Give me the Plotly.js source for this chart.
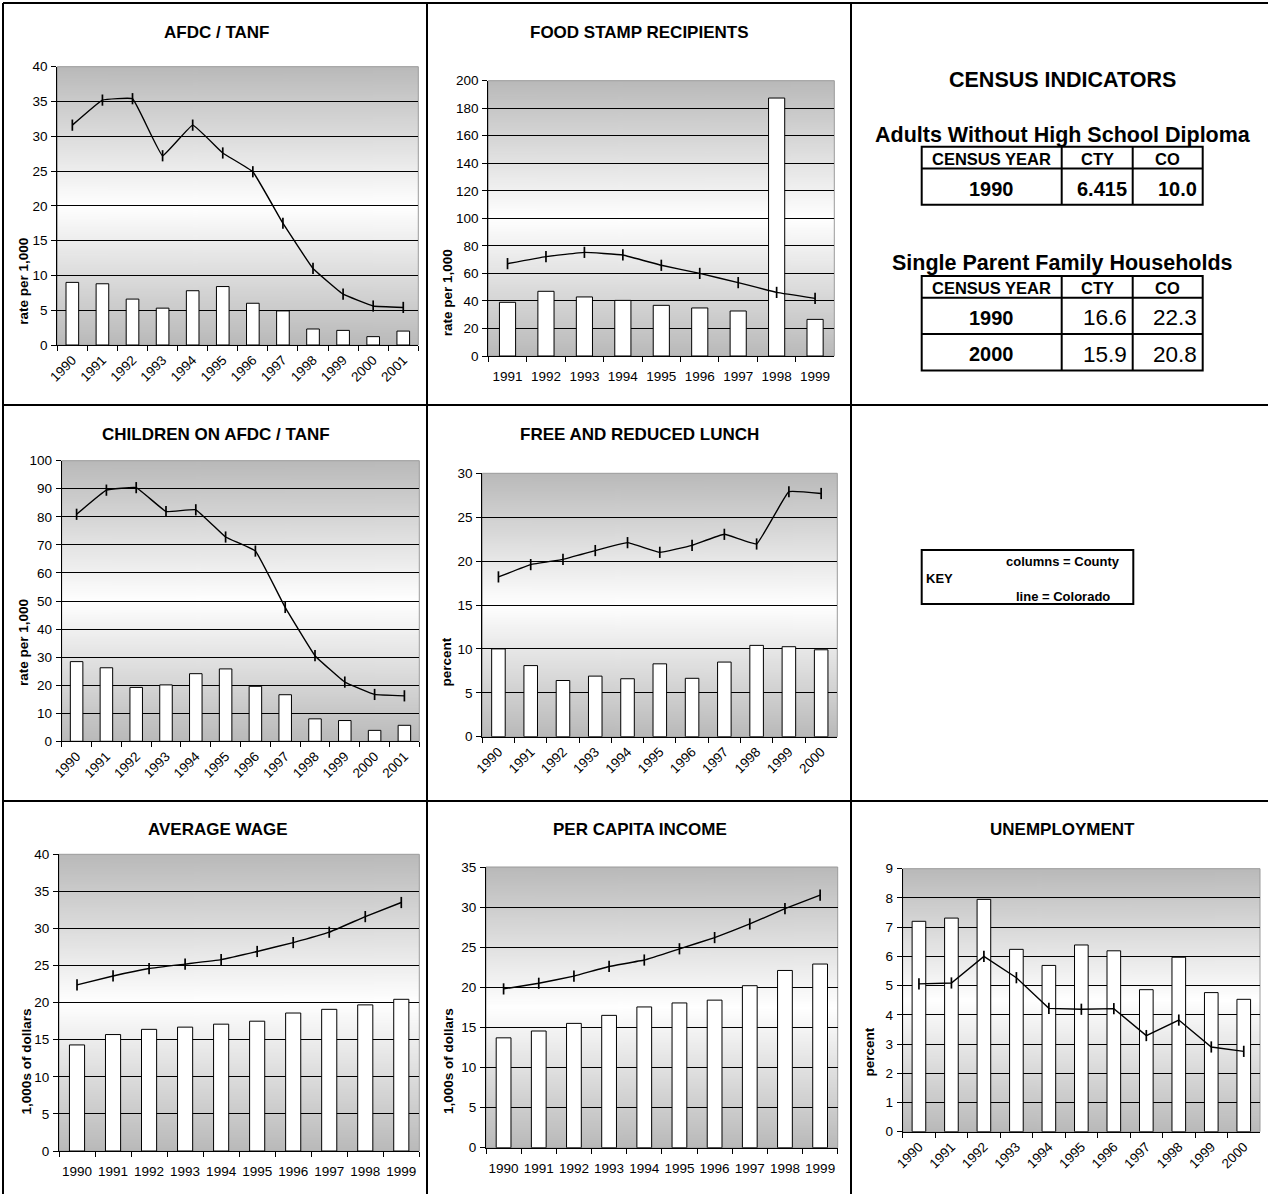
<!DOCTYPE html>
<html>
<head>
<meta charset="utf-8">
<script src="https://cdn.plot.ly/plotly-3.0.1.min.js"></script>
<style>
html,body{margin:0;padding:0;background:#fff;}
#chart{width:1268px;height:1194px;}
</style>
</head>
<body>
<div id="chart"></div>
<script>
// ---------------- DATA ----------------
const years1990to2001 = ['1990','1991','1992','1993','1994','1995','1996','1997','1998','1999','2000','2001'];
const years1990to2000 = ['1990','1991','1992','1993','1994','1995','1996','1997','1998','1999','2000'];
const years1990to1999 = ['1990','1991','1992','1993','1994','1995','1996','1997','1998','1999'];
const years1991to1999 = ['1991','1992','1993','1994','1995','1996','1997','1998','1999'];

const afdcCounty      = [9.0, 8.8, 6.6, 5.3, 7.8, 8.4, 6.0, 4.9, 2.3, 2.1, 1.2, 2.0];
const afdcColorado    = [31.6, 35.2, 35.4, 27.2, 31.6, 27.6, 24.9, 17.5, 11.0, 7.3, 5.6, 5.4];

const foodCounty      = [39.0, 47.0, 42.9, 40.4, 36.8, 34.9, 32.7, 187.4, 26.6];
const foodColorado    = [67.1, 72.2, 75.3, 73.4, 65.9, 60.0, 53.3, 46.2, 41.9];

const childCounty     = [28.4, 26.2, 19.2, 20.1, 24.1, 25.8, 19.6, 16.6, 8.0, 7.4, 3.9, 5.7];
const childColorado   = [80.9, 89.5, 90.4, 81.9, 82.5, 72.8, 67.8, 47.7, 30.5, 21.1, 16.7, 16.2];

const lunchCounty     = [10.0, 8.1, 6.4, 6.9, 6.6, 8.3, 6.65, 8.5, 10.4, 10.25, 9.9];
const lunchColorado   = [18.2, 19.6, 20.2, 21.2, 22.1, 21.0, 21.8, 23.05, 21.95, 27.9, 27.7];

const wageCounty      = [14.3, 15.7, 16.4, 16.7, 17.1, 17.5, 18.6, 19.1, 19.7, 20.45];
const wageColorado    = [22.4, 23.6, 24.6, 25.2, 25.8, 26.9, 28.1, 29.5, 31.6, 33.5];

const incomeCounty    = [13.7, 14.55, 15.5, 16.5, 17.55, 18.05, 18.4, 20.2, 22.1, 22.9];
const incomeColorado  = [19.8, 20.5, 21.4, 22.6, 23.4, 24.8, 26.2, 27.9, 29.8, 31.5];

const unempCounty     = [7.2, 7.31, 7.95, 6.24, 5.69, 6.39, 6.19, 4.86, 5.97, 4.76, 4.53];
const unempColorado   = [5.06, 5.09, 6.0, 5.27, 4.22, 4.19, 4.21, 3.29, 3.82, 2.9, 2.75];

const tableHeaders      = ['CENSUS YEAR', 'CTY', 'CO'];
const diplomaYears      = ['1990'];
const diplomaCty        = ['6.415'];
const diplomaCo         = ['10.0'];
const singleParentYears = ['1990', '2000'];
const singleParentCty   = ['16.6', '15.9'];
const singleParentCo    = ['22.3', '20.8'];

// ---------------- LAYOUT HELPERS ----------------
const W = 1268, H = 1194;
const FONT = '"Liberation Sans", Arial, sans-serif';
const TICK = 13.5;
const px = x => x / W;
const py = y => 1 - y / H;

const panels = [
  {title:'AFDC / TANF', cats:years1990to2001, county:afdcCounty, state:afdcColorado, ymax:40, dtick:5,
   ytitle:'rate per 1,000', angle:-45, box:[57.3,66.7,418.3,345], tpos:[216,33], ypos:[22.7,281], smooth:true},
  {title:'FOOD STAMP RECIPIENTS', cats:years1991to1999, county:foodCounty, state:foodColorado, ymax:200, dtick:20,
   ytitle:'rate per 1,000', angle:0, box:[488.3,80.7,834.3,356], tpos:[639,32.5], ypos:[447.7,292.5], smooth:true},
  {title:'CHILDREN ON AFDC / TANF', cats:years1990to2001, county:childCounty, state:childColorado, ymax:100, dtick:10,
   ytitle:'rate per 1,000', angle:-45, box:[61.7,460.7,419.3,741.3], tpos:[216,435], ypos:[23.3,642.7], smooth:true},
  {title:'FREE AND REDUCED LUNCH', cats:years1990to2000, county:lunchCounty, state:lunchColorado, ymax:30, dtick:5,
   ytitle:'percent', angle:-45, box:[482.3,473.3,837.3,736.7], tpos:[639,435], ypos:[446.7,661.7], smooth:true},
  {title:'AVERAGE WAGE', cats:years1990to1999, county:wageCounty, state:wageColorado, ymax:40, dtick:5,
   ytitle:'1,000s of dollars', angle:0, box:[59,854.3,419.3,1151], tpos:[217,829.5], ypos:[26.7,1061.7], smooth:true},
  {title:'PER CAPITA INCOME', cats:years1990to1999, county:incomeCounty, state:incomeColorado, ymax:35, dtick:5,
   ytitle:'1,000s of dollars', angle:0, box:[486,867,837.7,1147.7], tpos:[639.5,829.5], ypos:[448.3,1060.7], smooth:true},
  {title:'UNEMPLOYMENT', cats:years1990to2000, county:unempCounty, state:unempColorado, ymax:9, dtick:1,
   ytitle:'percent', angle:-45, box:[902.7,868.7,1260,1131.7], tpos:[1062,829.5], ypos:[869.3,1052.3], smooth:false}
];

function gradientURL(){
  const c = document.createElement('canvas');
  c.width = 4; c.height = 512;
  const g = c.getContext('2d');
  const gr = g.createLinearGradient(0,0,0,512);
  gr.addColorStop(0, '#b9b9b9');
  gr.addColorStop(0.5, '#ffffff');
  gr.addColorStop(1, '#b9b9b9');
  g.fillStyle = gr;
  g.fillRect(0,0,4,512);
  return c.toDataURL('image/png');
}
const grad = gradientURL();

const data = [];
const layout = {
  width: W, height: H,
  margin: {l:0, r:0, t:0, b:0},
  paper_bgcolor: '#ffffff',
  plot_bgcolor: 'rgba(0,0,0,0)',
  showlegend: false,
  bargap: 0.58,
  font: {family: FONT, color: '#000', size: TICK},
  annotations: [], shapes: [], images: []
};

panels.forEach((p, i) => {
  const n = i === 0 ? '' : String(i + 1);
  const xa = 'x' + n, ya = 'y' + n;
  const [l, t, r, b] = p.box;
  layout['xaxis' + n] = {
    domain: [px(l), px(r)], anchor: ya, type: 'category',
    range: [-0.5, p.cats.length - 0.5], fixedrange: true,
    tickson: 'boundaries', ticks: 'outside', ticklen: 5, tickcolor: '#000', tickwidth: 1,
    showline: true, linecolor: '#000', linewidth: 1, showgrid: false, zeroline: false,
    tickangle: p.angle, tickfont: {family: FONT, size: TICK, color: '#000'},
    ticklabelstandoff: p.angle === 0 ? 8 : 1
  };
  layout['yaxis' + n] = {
    domain: [py(b), py(t)], anchor: xa, range: [0, p.ymax], dtick: p.dtick, tick0: 0,
    fixedrange: true, ticks: 'outside', ticklen: 5, tickcolor: '#000', tickwidth: 1,
    showline: true, linecolor: '#000', linewidth: 1,
    showgrid: true, gridcolor: '#000', gridwidth: 1, zeroline: false,
    tickfont: {family: FONT, size: TICK, color: '#000'}, ticklabelstandoff: 1
  };
  data.push({
    type: 'bar', x: p.cats, y: p.county, xaxis: xa, yaxis: ya, name: 'County',
    marker: {color: '#ffffff', line: {color: '#000', width: 1}}
  });
  data.push({
    type: 'scatter', mode: 'lines+markers', x: p.cats, y: p.state, xaxis: xa, yaxis: ya, name: 'Colorado',
    line: {color: '#000', width: 1.4, shape: p.smooth ? 'spline' : 'linear', smoothing: 0.25},
    marker: {symbol: 'line-ns', size: 8, color: '#000', line: {color: '#000', width: 1.7}},
    cliponaxis: false
  });
  layout.images.push({
    source: grad, xref: 'paper', yref: 'paper', x: px(l), y: py(t),
    sizex: px(r) - px(l), sizey: py(t) - py(b), xanchor: 'left', yanchor: 'top',
    sizing: 'stretch', layer: 'below'
  });
  layout.shapes.push({
    type: 'rect', xref: 'paper', yref: 'paper', x0: px(l), x1: px(r), y0: py(b), y1: py(t),
    line: {color: '#9a9a9a', width: 1}, layer: 'below'
  });
  layout.annotations.push({
    text: p.title, xref: 'paper', yref: 'paper', x: px(p.tpos[0]), y: py(p.tpos[1]),
    xanchor: 'center', yanchor: 'middle', showarrow: false,
    font: {family: FONT, size: 17, weight: 'bold', color: '#000'}
  });
  layout.annotations.push({
    text: p.ytitle, xref: 'paper', yref: 'paper', x: px(p.ypos[0]), y: py(p.ypos[1]),
    xanchor: 'center', yanchor: 'middle', showarrow: false, textangle: -90,
    font: {family: FONT, size: 13.5, weight: 'bold', color: '#000'}
  });
});

// ---------------- PAGE GRID BORDERS ----------------
function pline(x0, y0, x1, y1, w){
  layout.shapes.push({type:'line', xref:'paper', yref:'paper',
    x0:px(x0), y0:py(y0), x1:px(x1), y1:py(y1), line:{color:'#000', width:w}});
}
[3, 427, 851].forEach(x => pline(x, 3, x, H, 2));
[3, 405, 801].forEach(y => pline(3, y, W, y, 2));

// ---------------- CENSUS INDICATORS ----------------
function txt(s, x, y, size, bold, anchor){
  layout.annotations.push({
    text: s, xref:'paper', yref:'paper', x:px(x), y:py(y),
    xanchor: anchor || 'center', yanchor:'middle', showarrow:false,
    font:{family:FONT, size:size, weight: bold ? 'bold' : 'normal', color:'#000'}
  });
}
txt('CENSUS INDICATORS', 1062, 80, 21.5, true);
txt('Adults Without High School Diploma', 1063, 134.5, 21.5, true);
txt('Single Parent Family Households', 1062, 263, 21.5, true);

const colX = [921.7, 1061.7, 1132.7, 1202.7];
function drawTable(top, years, cty, co, valBold, valSize){
  const headH = 21.8, rowH = 36.3;
  const bottom = top + headH + rowH * years.length;
  layout.shapes.push({type:'rect', xref:'paper', yref:'paper',
    x0:px(colX[0]), x1:px(colX[3]), y0:py(bottom), y1:py(top),
    line:{color:'#000', width:2}});
  pline(colX[1], top, colX[1], bottom, 2);
  pline(colX[2], top, colX[2], bottom, 2);
  for (let k = 0; k < years.length; k++) {
    pline(colX[0], top + headH + rowH * k, colX[3], top + headH + rowH * k, 2);
  }
  tableHeaders.forEach((h, c) => {
    txt(h, (colX[c] + colX[c+1]) / 2, top + headH / 2 + 1, 16.5, true);
  });
  years.forEach((yr, k) => {
    const yc = top + headH + rowH * k + rowH / 2 + 2;
    txt(yr, (colX[0] + colX[1]) / 2, yc, 20, true);
    txt(cty[k], colX[2] - 4, yc, valSize, valBold, 'right');
    txt(co[k], colX[3] - 4, yc, valSize, valBold, 'right');
  });
}
drawTable(146.7, diplomaYears, diplomaCty, diplomaCo, true, 20);
drawTable(276, singleParentYears, singleParentCty, singleParentCo, false, 22.5);

// ---------------- KEY ----------------
layout.shapes.push({type:'rect', xref:'paper', yref:'paper',
  x0:px(921.7), x1:px(1133.3), y0:py(604), y1:py(550), line:{color:'#000', width:2}});
txt('columns = County', 1062.5, 561, 13, true);
txt('KEY', 923.5, 578.5, 13, true, 'left');
txt('line = Colorado', 1063.3, 596, 13, true);

Plotly.newPlot('chart', data, layout, {staticPlot: true, displayModeBar: false});
</script>
</body>
</html>
